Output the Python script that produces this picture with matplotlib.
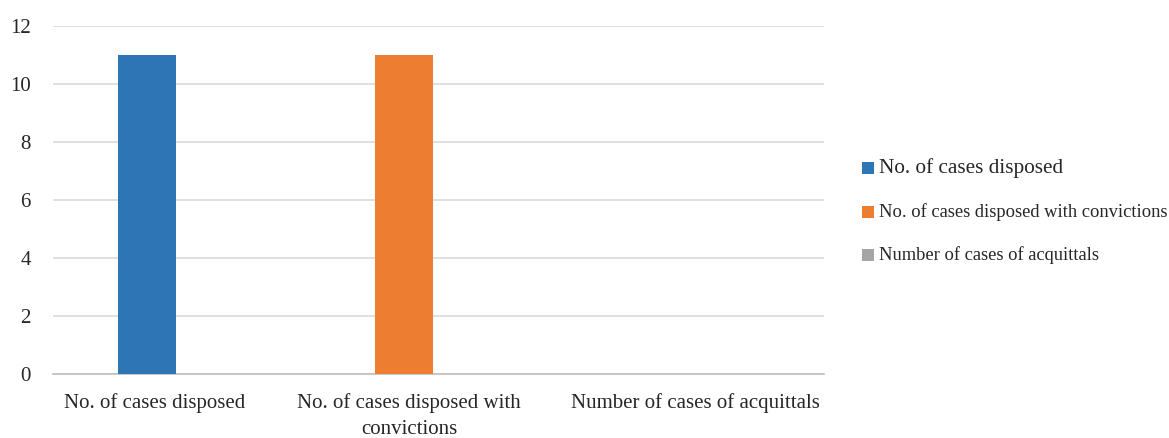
import matplotlib
matplotlib.use("Agg")
import matplotlib.pyplot as plt
from matplotlib.patches import Patch

plt.rcParams['font.family'] = ['Liberation Serif', 'DejaVu Serif']

# case counts for each category
categories = ["No. of cases disposed",
              "No. of cases disposed with\nconvictions",
              "Number of cases of acquittals"]
series_names = ["No. of cases disposed",
                "No. of cases disposed with convictions",
                "Number of cases of acquittals"]
values = [11, 11, 0]
colors = ["#2e75b6", "#ed7d31", "#a5a5a5"]

fig = plt.figure(figsize=(11.69, 4.38), dpi=100)
ax = fig.add_axes([0.0453, 0.1461, 0.6600, 0.7945])

x = list(range(len(categories)))
# bars sit a little left of each category centre
bar_x = [i - 0.136 for i in x]
ax.bar(bar_x, values, width=0.226, color=colors, zorder=3)

ax.set_xlim(-0.5, 2.5)
ax.set_ylim(0, 12)
ax.set_yticks(range(0, 13, 2))
# category labels are nudged left, except the last one
label_shift = [-0.105, -0.115, 0.0]
ax.set_xticks([i + s for i, s in zip(x, label_shift)])
ax.set_xticklabels(categories, fontsize=15, color="#262626", linespacing=1.5)
ax.tick_params(axis='y', labelsize=15, labelcolor="#262626", length=0, pad=16)
ax.tick_params(axis='x', length=0, pad=14)
ax.grid(axis='y', color="#d9d9d9", linewidth=1.2, zorder=0)
ax.xaxis.grid(False)

for side in ['top', 'right', 'left']:
    ax.spines[side].set_visible(False)
ax.spines['bottom'].set_color("#bfbfbf")
ax.spines['bottom'].set_linewidth(1.2)

# legend, first entry drawn a bit larger
handles = [Patch(facecolor=c, edgecolor='none') for c in colors]
leg = fig.legend(handles, series_names, loc='upper left',
                 bbox_to_anchor=(0.7323, 0.652), frameon=False,
                 handlelength=0.88, handleheight=0.88, handletextpad=0.35,
                 labelspacing=1.8, borderaxespad=0)
sizes = [15.3, 13.3, 13.3]
for t, s in zip(leg.get_texts(), sizes):
    t.set_fontsize(s)
    t.set_color("#262626")

fig.savefig("out.png", dpi=100)
